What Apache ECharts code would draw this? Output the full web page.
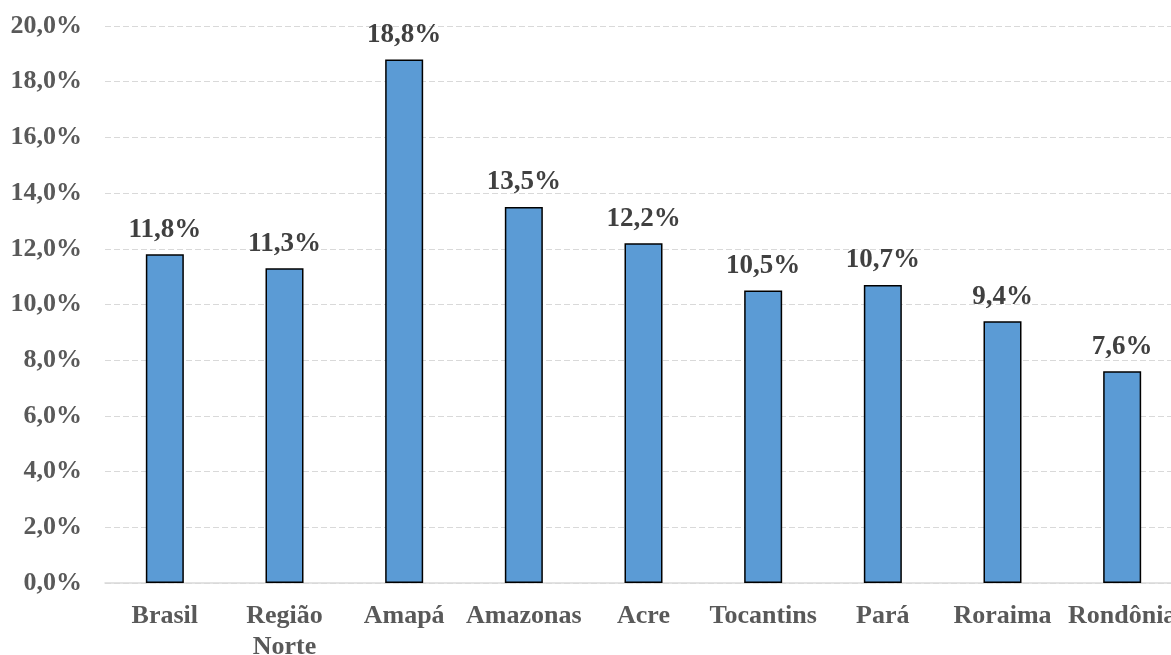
<!DOCTYPE html>
<html>
<head>
<meta charset="utf-8">
<script src="https://cdn.jsdelivr.net/npm/echarts@6/dist/echarts.min.js"></script>
<style>
html,body{margin:0;padding:0;background:#fff;}
#chart{width:1171px;height:655px;}
</style>
</head>
<body>
<div id="chart"></div>
<script>
const categories = ['Brasil', 'Região\nNorte', 'Amapá', 'Amazonas', 'Acre', 'Tocantins', 'Pará', 'Roraima', 'Rondônia'];
const values = [11.8, 11.3, 18.8, 13.5, 12.2, 10.5, 10.7, 9.4, 7.6];
const yMin = 0, yMax = 20, yStep = 2;

const fmt = v => v.toFixed(1).replace('.', ',') + '%';
const font = "'Liberation Serif', 'Times New Roman', serif";

const chart = echarts.init(document.getElementById('chart'), null, {renderer: 'canvas'});
chart.setOption({
  animation: false,
  grid: {left: 105, width: 1077, top: 26, bottom: 72, containLabel: false, outerBoundsMode: 'none'},
  xAxis: {
    type: 'category',
    data: categories,
    axisLine: {lineStyle: {color: '#D9D9D9', width: 1.5}},
    axisTick: {show: false},
    axisLabel: {
      color: '#595959', fontFamily: font, fontWeight: 'bold', fontSize: 26,
      margin: 18, lineHeight: 31, interval: 0
    }
  },
  yAxis: {
    type: 'value',
    min: yMin, max: yMax, interval: yStep,
    axisLine: {show: false},
    axisTick: {show: false},
    splitLine: {lineStyle: {color: '#D9D9D9', type: [6, 3], width: 1.2}},
    axisLabel: {
      color: '#595959', fontFamily: font, fontWeight: 'bold', fontSize: 26,
      margin: 23, formatter: fmt
    }
  },
  series: [{
    type: 'bar',
    data: values,
    barWidth: 38,
    itemStyle: {color: '#5B9BD5', borderColor: '#000', borderWidth: 1.5},
    label: {
      show: true, position: 'top', distance: 11,
      color: '#404040', fontFamily: font, fontWeight: 'bold', fontSize: 27,
      formatter: p => fmt(p.value)
    }
  }]
});
</script>
</body>
</html>
